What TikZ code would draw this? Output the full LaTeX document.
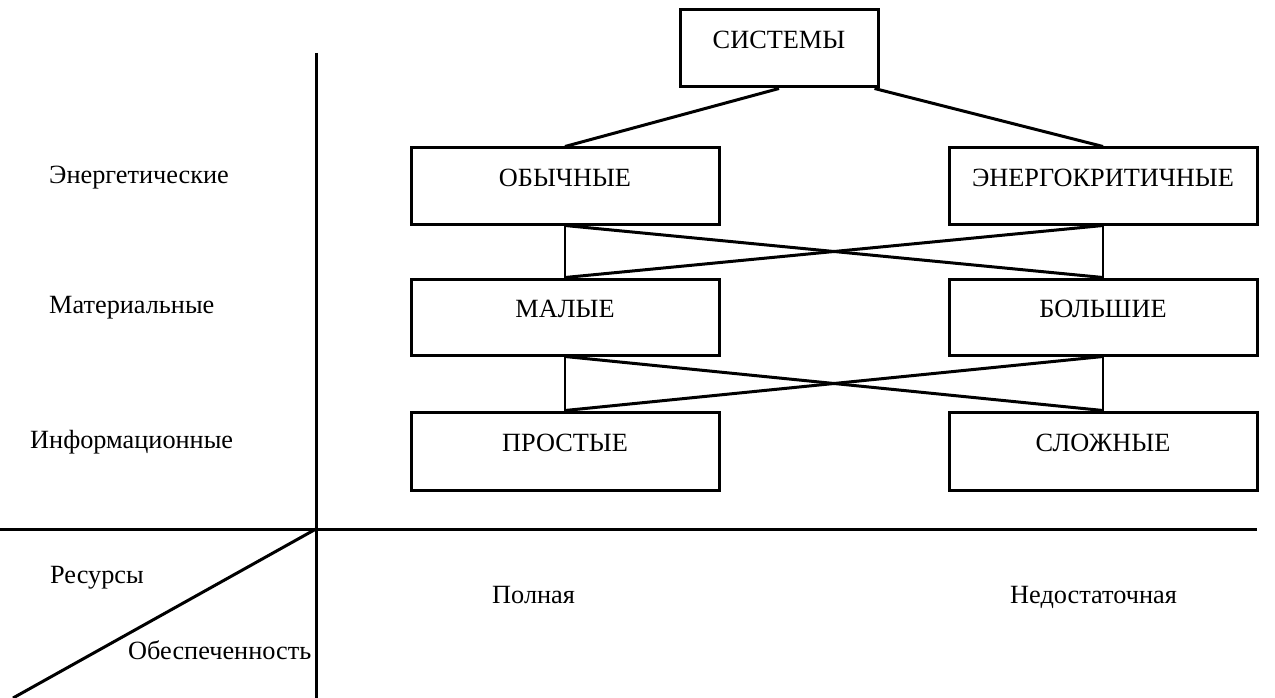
\documentclass[tikz,border=0pt]{standalone}
\usepackage{fontspec}
\setmainfont{Liberation Serif}
\begin{document}
\begin{tikzpicture}[x=1pt,y=-1pt,
  every node/.style={font=\fontsize{26.3}{31}\selectfont},
  box/.style={draw,line width=3pt,minimum height=76pt,text height=18pt,text depth=18pt,inner sep=0pt},
  wide/.style={box,minimum width=308pt},
  lbl/.style={anchor=west,text height=18pt,text depth=6pt,inner sep=0pt},
  link/.style={line width=3pt},
  vlink/.style={line width=2pt},
  axis/.style={line width=3pt}]
\useasboundingbox (0,0) rectangle (1275,698);
% classification tree
\node[box,minimum width=198pt,minimum height=77pt] (sys) at (779,48.5) {СИСТЕМЫ};
\node[wide] (ob) at (565,186) {ОБЫЧНЫЕ};
\node[wide] (en) at (1103,186) {ЭНЕРГОКРИТИЧНЫЕ};
\node[wide] (mal) at (565,317) {МАЛЫЕ};
\node[wide] (bol) at (1103,317) {БОЛЬШИЕ};
\node[wide,minimum height=78pt] (pr) at (565,451) {ПРОСТЫЕ};
\node[wide,minimum height=78pt] (sl) at (1103,451) {СЛОЖНЫЕ};
\coordinate (sysr) at ([xshift=-5pt]sys.south east);
\draw[link] (sys.south) -- (ob.north);
\draw[link] (sysr) -- (en.north);
\draw[link] (ob.south) -- (bol.north);
\draw[link] (en.south) -- (mal.north);
\draw[vlink] (ob.south) -- (mal.north);
\draw[vlink] (en.south) -- (bol.north);
\draw[link] (mal.south) -- (sl.north);
\draw[link] (bol.south) -- (pr.north);
\draw[vlink] (mal.south) -- (pr.north);
\draw[vlink] (bol.south) -- (sl.north);
% axes
\coordinate (o) at (316,529);
\coordinate (vtop) at (316,53);
\coordinate (vbot) at (316,698);
\coordinate (hl) at (0,529);
\coordinate (hr) at (1257,529);
\coordinate (dg) at (13,698);
\draw[axis] (vtop) -- (vbot);
\draw[axis] (hl) -- (hr);
\draw[axis] (o) -- (dg);
% row and column labels
\node[lbl] (l1) at (49,177) {Энергетические};
\node[lbl] (l2) at (49,307) {Материальные};
\node[lbl] (l3) at (30,442) {Информационные};
\node[lbl] (l4) at (50,577) {Ресурсы};
\node[lbl] (l5) at (128,653) {Обеспеченность};
\node[lbl] (c1) at (492,597) {Полная};
\node[lbl] (c2) at (1010,597) {Недостаточная};
\end{tikzpicture}
\end{document}
